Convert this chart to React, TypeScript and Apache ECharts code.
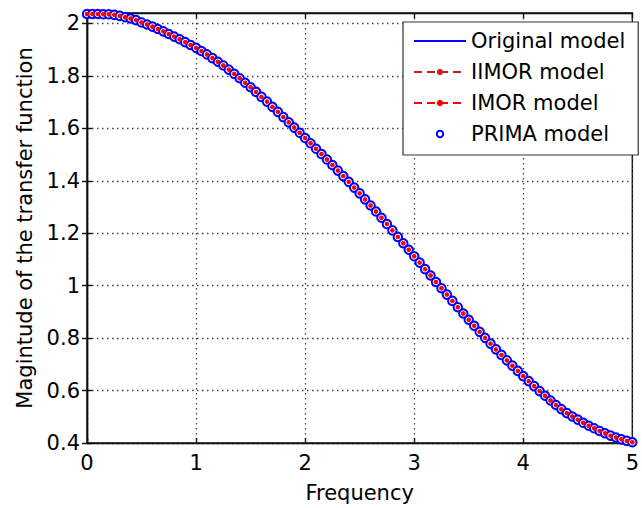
import React, { useEffect, useRef } from "react";
import * as echarts from "echarts";

// Frequency samples (x)
const FREQ = [
  0, 0.05, 0.1, 0.15, 0.2, 0.25, 0.3, 0.35, 0.4, 0.45,
  0.5, 0.55, 0.6, 0.65, 0.7, 0.75, 0.8, 0.85, 0.9, 0.95,
  1, 1.05, 1.1, 1.15, 1.2, 1.25, 1.3, 1.35, 1.4, 1.45,
  1.5, 1.55, 1.6, 1.65, 1.7, 1.75, 1.8, 1.85, 1.9, 1.95,
  2, 2.05, 2.1, 2.15, 2.2, 2.25, 2.3, 2.35, 2.4, 2.45,
  2.5, 2.55, 2.6, 2.65, 2.7, 2.75, 2.8, 2.85, 2.9, 2.95,
  3, 3.05, 3.1, 3.15, 3.2, 3.25, 3.3, 3.35, 3.4, 3.45,
  3.5, 3.55, 3.6, 3.65, 3.7, 3.75, 3.8, 3.85, 3.9, 3.95,
  4, 4.05, 4.1, 4.15, 4.2, 4.25, 4.3, 4.35, 4.4, 4.45,
  4.5, 4.55, 4.6, 4.65, 4.7, 4.75, 4.8, 4.85, 4.9, 4.95,
  5,
];

// Magnitude of the transfer function; all models coincide
const MAGNITUDE = [
  2.036, 2.036, 2.036, 2.035, 2.035, 2.033, 2.029, 2.024, 2.019, 2.013,
  2.004, 1.996, 1.988, 1.979, 1.97, 1.96, 1.95, 1.94, 1.929, 1.918,
  1.907, 1.895, 1.882, 1.868, 1.854, 1.84, 1.824, 1.808, 1.791, 1.774,
  1.757, 1.739, 1.72, 1.702, 1.682, 1.663, 1.643, 1.623, 1.603, 1.583,
  1.563, 1.543, 1.522, 1.502, 1.481, 1.46, 1.439, 1.418, 1.396, 1.374,
  1.352, 1.329, 1.306, 1.283, 1.259, 1.235, 1.211, 1.186, 1.162, 1.137,
  1.112, 1.088, 1.063, 1.039, 1.014, 0.99, 0.966, 0.942, 0.918, 0.894,
  0.87, 0.847, 0.824, 0.801, 0.779, 0.757, 0.736, 0.715, 0.695, 0.675,
  0.655, 0.636, 0.617, 0.598, 0.58, 0.562, 0.545, 0.529, 0.514, 0.501,
  0.489, 0.477, 0.466, 0.456, 0.446, 0.437, 0.428, 0.421, 0.414, 0.408,
  0.403,
];

const SERIES_NAMES = ["Original model", "IIMOR model", "IMOR model", "PRIMA model"];
const X_TICKS = [0, 1, 2, 3, 4, 5];
const Y_TICKS = [0.4, 0.6, 0.8, 1, 1.2, 1.4, 1.6, 1.8, 2];

const FONT = "DejaVu Sans";

export default function App() {
  const ref = useRef<HTMLDivElement>(null);

  useEffect(() => {
    if (!ref.current) return;
    const chart = echarts.init(ref.current, undefined, { renderer: "svg" });
    const pts = FREQ.map((f, i) => [f, MAGNITUDE[i]]);

    const gridLine = { show: true, lineStyle: { color: "#444", width: 1.3, type: [1.5, 3.5] as any } };
    const axisLine = { show: true, lineStyle: { color: "#111", width: 1.4 } };
    const tick = { show: true, inside: true, length: 5, lineStyle: { color: "#111", width: 1.4 } };

    chart.setOption({
      animation: false,
      backgroundColor: "#fff",
      textStyle: { fontFamily: FONT },
      grid: {
        left: 87,
        right: 4,
        top: 13,
        bottom: 62,
        show: true,
        borderColor: "#111",
        borderWidth: 1.4,
        backgroundColor: "#fff",
      },
      legend: {
        orient: "vertical",
        left: 403,
        top: 22,
        padding: [7, 13, 9, 10],
        itemGap: 7,
        itemWidth: 52,
        itemHeight: 8,
        backgroundColor: "#fff",
        borderColor: "#333",
        borderWidth: 1.2,
        borderRadius: 0,
        textStyle: { fontFamily: FONT, fontSize: 21, color: "#000", lineHeight: 24 },
        data: [
          { name: SERIES_NAMES[0], itemStyle: { opacity: 0 } },
          { name: SERIES_NAMES[1] },
          { name: SERIES_NAMES[2] },
          { name: SERIES_NAMES[3] },
        ],
      },
      xAxis: [
        {
          type: "value",
          min: X_TICKS[0],
          max: X_TICKS[X_TICKS.length - 1],
          interval: 1,
          name: "Frequency",
          nameLocation: "middle",
          nameGap: 39,
          nameTextStyle: { fontFamily: FONT, fontSize: 21, color: "#000" },
          axisLine,
          axisTick: tick,
          axisLabel: { fontFamily: FONT, fontSize: 21, color: "#000", margin: 9 },
          splitLine: gridLine,
        },
        {
          type: "value",
          position: "top",
          min: X_TICKS[0],
          max: X_TICKS[X_TICKS.length - 1],
          interval: 1,
          axisLine,
          axisTick: tick,
          axisLabel: { show: false },
          splitLine: { show: false },
        },
      ],
      yAxis: [
        {
          type: "value",
          min: Y_TICKS[0],
          max: 2.04,
          interval: 0.2,
          name: "Magintude of the transfer function",
          nameLocation: "middle",
          nameGap: 51,
          nameTextStyle: { fontFamily: FONT, fontSize: 21, color: "#000" },
          axisLine,
          axisTick: { ...tick, customValues: Y_TICKS },
          axisLabel: {
            fontFamily: FONT,
            fontSize: 21,
            color: "#000",
            margin: 7,
            customValues: Y_TICKS,
            formatter: (v: number) => String(+v.toFixed(1)),
          },
          splitLine: gridLine,
        },
        {
          type: "value",
          position: "right",
          min: Y_TICKS[0],
          max: 2.04,
          interval: 0.2,
          axisLine,
          axisTick: { ...tick, customValues: Y_TICKS },
          axisLabel: { show: false },
          splitLine: { show: false },
        },
      ],
      series: [
        {
          name: SERIES_NAMES[0],
          type: "line",
          data: pts,
          symbol: "none",
          lineStyle: { color: "#0000ff", width: 2.5 },
          itemStyle: { color: "#0000ff" },
        },
        {
          name: SERIES_NAMES[3],
          type: "line",
          data: pts,
          symbol: "emptyCircle",
          symbolSize: 8.5,
          lineStyle: { width: 0, opacity: 0 },
          itemStyle: { color: "#0000ff", borderWidth: 2.4 },
        },
        {
          name: SERIES_NAMES[1],
          type: "line",
          data: pts,
          symbol: "circle",
          symbolSize: 4,
          lineStyle: { color: "#c81e1e", width: 2, type: [8, 5] },
          itemStyle: { color: "#c81e1e" },
        },
        {
          name: SERIES_NAMES[2],
          type: "line",
          data: pts,
          symbol: "circle",
          symbolSize: 4.5,
          lineStyle: { color: "#ff0000", width: 2, type: [8, 5] },
          itemStyle: { color: "#ff0000" },
        },
      ],
    });
    return () => chart.dispose();
  }, []);

  return (
    <div
      ref={ref}
      style={{ position: "absolute", left: 0, top: 0, width: 642, height: 508 }}
    />
  );
}
